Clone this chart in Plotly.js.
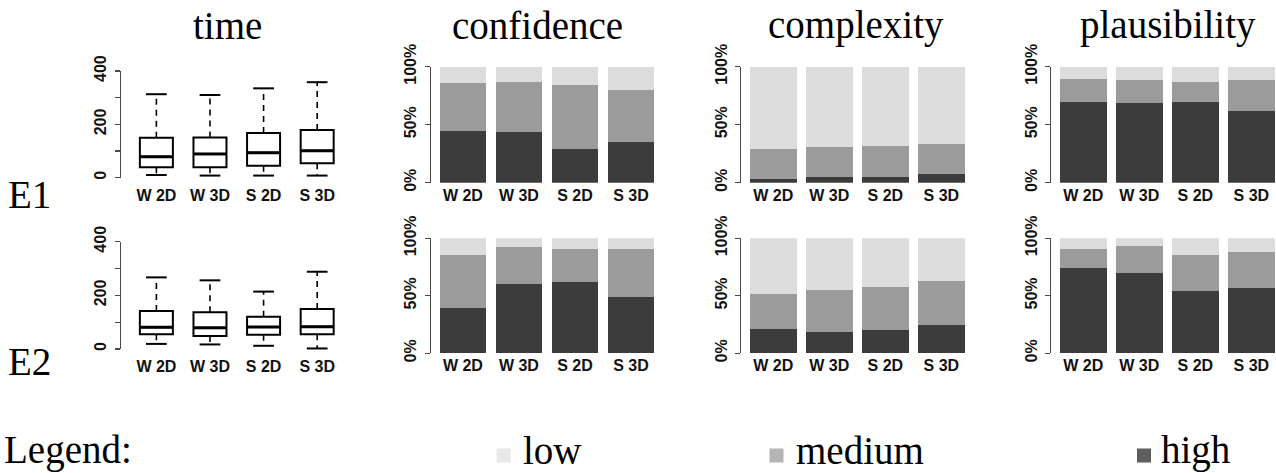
<!DOCTYPE html>
<html>
<head>
<meta charset="utf-8">
<script src="https://cdn.plot.ly/plotly-3.0.1.min.js"></script>
<style>html,body{margin:0;padding:0;background:#fff;}#chart{width:1276px;height:473px;}</style>
</head>
<body>
<div id="chart"></div>
<script>
// ---------- data ----------
const categories = ['W 2D', 'W 3D', 'S 2D', 'S 3D'];
const panelTitles = ['time', 'confidence', 'complexity', 'plausibility'];
const rowLabels = ['E1', 'E2'];
const levelNames = ['low', 'medium', 'high'];
const timeTicks = [0, 100, 200, 300, 400];
const timeTickText = ['0', '', '200', '', '400'];
const pctTicks = [0, 50, 100];
const pctTickText = ['0%', '50%', '100%'];

// time (boxplots)
const e1TimeLower = [10, 8, 8, 8];
const e1TimeQ1 = [39, 39, 45, 54];
const e1TimeMedian = [79, 89, 94, 101];
const e1TimeQ3 = [150, 151, 168, 179];
const e1TimeUpper = [313, 310, 335, 358];

const e2TimeLower = [19, 17, 12, 2];
const e2TimeQ1 = [55, 48, 53, 55];
const e2TimeMedian = [81, 79, 82, 83];
const e2TimeQ3 = [142, 137, 120, 149];
const e2TimeUpper = [267, 256, 214, 288];

// stacked percentages (high, medium, low)
const e1ConfHigh = [44.6, 44.0, 29.0, 35.0];
const e1ConfMed = [41.6, 42.8, 55.2, 44.6];
const e1ConfLow = [13.8, 13.2, 15.8, 20.4];
const e2ConfHigh = [39.0, 60.0, 61.7, 49.0];
const e2ConfMed = [46.2, 32.2, 28.7, 41.4];
const e2ConfLow = [14.8, 7.8, 9.6, 9.6];

const e1CompHigh = [3.4, 4.9, 4.6, 7.2];
const e1CompMed = [25.9, 25.6, 27.3, 25.9];
const e1CompLow = [70.7, 69.5, 68.1, 66.9];
const e2CompHigh = [21.4, 18.3, 20.6, 24.9];
const e2CompMed = [29.9, 37.1, 36.8, 38.2];
const e2CompLow = [48.7, 44.6, 42.6, 36.9];

const e1PlausHigh = [69.3, 68.4, 69.3, 61.5];
const e1PlausMed = [20.4, 20.1, 17.8, 26.7];
const e1PlausLow = [10.3, 11.5, 12.9, 11.8];
const e2PlausHigh = [73.9, 69.6, 54.4, 56.8];
const e2PlausMed = [16.8, 23.4, 30.8, 31.0];
const e2PlausLow = [9.3, 7.0, 14.8, 12.2];

// ---------- layout helpers ----------
const W = 1276, H = 473;
const fx = px => Math.max(0, Math.min(1, px / W));
const fy = px => Math.max(0, Math.min(1, 1 - px / H));
const colHigh = '#3c3c3c', colMed = '#9b9b9b', colLow = '#dcdcdc';
const legHigh = '#5f5f5f', legMed = '#b4b4b4', legLow = '#e8e8e8';
const axisColor = '#4a4a4a';
const tickFont = {family: 'Liberation Sans, Arial, sans-serif', size: 16, color: '#111111', weight: 'bold'};
const serif = 'Liberation Serif, Times New Roman, serif';

const suffix = i => (i === 1 ? '' : String(i));
const traces = [];
const layout = {
  width: W, height: H,
  margin: {l: 0, r: 0, t: 0, b: 0},
  paper_bgcolor: '#ffffff', plot_bgcolor: 'rgba(0,0,0,0)',
  showlegend: false, barmode: 'stack', bargap: 1 - 1 / 1.2,
  annotations: [], shapes: []
};

function setAxes(i, xLeft, spacing, pad, yBottom, yTop, yRange, tv, tt, xStandoff) {
  let rightPx = xLeft + (3 + 2 * pad) * spacing;
  let rMax = 3 + pad;
  if (rightPx > W) { rMax = -pad + (W - xLeft) / spacing; rightPx = W; }
  layout['xaxis' + suffix(i)] = {
    domain: [fx(xLeft), fx(rightPx)], range: [-pad, rMax], anchor: 'y' + suffix(i),
    type: 'category', categoryorder: 'array', categoryarray: categories,
    showline: false, showgrid: false, zeroline: false, ticks: '',
    ticklabelstandoff: xStandoff, tickfont: tickFont, fixedrange: true
  };
  layout['yaxis' + suffix(i)] = {
    domain: [fy(yBottom), fy(yTop)], range: yRange, anchor: 'x' + suffix(i),
    showline: true, linecolor: axisColor, linewidth: 1.3, showgrid: false, zeroline: false,
    ticks: 'outside', ticklen: 5, tickwidth: 1.3, tickcolor: axisColor,
    tickmode: 'array', tickvals: tv, ticktext: tt, tickangle: -90,
    ticklabelstandoff: 2, tickfont: tickFont, fixedrange: true
  };
}

function addBox(i, lower, q1, med, q3, upper) {
  const xa = 'x' + suffix(i), ya = 'y' + suffix(i);
  traces.push({
    type: 'box', x: categories, q1: q1, median: med, q3: q3,
    lowerfence: q1, upperfence: q3, width: 0.616, whiskerwidth: 0,
    fillcolor: '#ffffff', line: {color: '#000000', width: 2},
    boxpoints: false, hoverinfo: 'skip', xaxis: xa, yaxis: ya
  });
  const wx = [], wy = [];
  categories.forEach((c, k) => { wx.push(c, c, null, c, c, null); wy.push(q3[k], upper[k], null, q1[k], lower[k], null); });
  traces.push({type: 'scatter', mode: 'lines', x: wx, y: wy, line: {color: '#000', width: 1.6, dash: '6px,5px'},
    hoverinfo: 'skip', cliponaxis: false, xaxis: xa, yaxis: ya});
  // whisker caps (line-ew length = 1.4 * size)
  traces.push({type: 'scatter', mode: 'markers', x: categories.concat(categories), y: upper.concat(lower),
    marker: {symbol: 'line-ew', size: 14.8, line: {color: '#000', width: 2}},
    hoverinfo: 'skip', cliponaxis: false, xaxis: xa, yaxis: ya});
  // thick median lines spanning the box width
  traces.push({type: 'scatter', mode: 'markers', x: categories, y: med,
    marker: {symbol: 'line-ew', size: 22.5, line: {color: '#000', width: 3}},
    hoverinfo: 'skip', cliponaxis: false, xaxis: xa, yaxis: ya});
}

function addStack(i, high, med, low) {
  const xa = 'x' + suffix(i), ya = 'y' + suffix(i);
  [[high, colHigh], [med, colMed], [low, colLow]].forEach(([vals, col]) => {
    traces.push({type: 'bar', x: categories, y: vals, marker: {color: col, line: {width: 0}},
      hoverinfo: 'skip', xaxis: xa, yaxis: ya});
  });
}

// panel geometry (pixels)
const boxLeft = 121, boxSp = 53.6, boxPad = 0.66;
const barLefts = [431, 741.4, 1051.4], barSp = 56, barPad = 0.57;
const rowBox = [[177.7, 71], [349, 241.7]];
const rowBar = [[182.7, 66.7], [353.3, 238.3]];

for (let r = 0; r < 2; r++) {
  const base = r * 4;
  setAxes(base + 1, boxLeft, boxSp, boxPad, rowBox[r][0], rowBox[r][1], [0, 400], timeTicks, timeTickText, 6);
  for (let c = 0; c < 3; c++) {
    setAxes(base + 2 + c, barLefts[c], barSp, barPad, rowBar[r][0], rowBar[r][1], [0, 100], pctTicks, pctTickText, 1);
  }
}

addBox(1, e1TimeLower, e1TimeQ1, e1TimeMedian, e1TimeQ3, e1TimeUpper);
addStack(2, e1ConfHigh, e1ConfMed, e1ConfLow);
addStack(3, e1CompHigh, e1CompMed, e1CompLow);
addStack(4, e1PlausHigh, e1PlausMed, e1PlausLow);
addBox(5, e2TimeLower, e2TimeQ1, e2TimeMedian, e2TimeQ3, e2TimeUpper);
addStack(6, e2ConfHigh, e2ConfMed, e2ConfLow);
addStack(7, e2CompHigh, e2CompMed, e2CompLow);
addStack(8, e2PlausHigh, e2PlausMed, e2PlausLow);

// titles
const titleX = [227.5, 537, 856, 1168];
panelTitles.forEach((t, k) => layout.annotations.push({
  text: t, xref: 'paper', yref: 'paper', x: fx(titleX[k]), y: fy(25), xanchor: 'center', yanchor: 'middle',
  showarrow: false, font: {family: serif, size: 39, color: '#000'}
}));
// row labels
const rowLabelY = [194, 361];
rowLabels.forEach((t, k) => layout.annotations.push({
  text: t, xref: 'paper', yref: 'paper', x: fx(6), y: fy(rowLabelY[k]), xanchor: 'left', yanchor: 'middle',
  showarrow: false, font: {family: serif, size: 39, color: '#000'}
}));
// legend
layout.annotations.push({
  text: 'Legend:', xref: 'paper', yref: 'paper', x: fx(3), y: 0, xanchor: 'left', yanchor: 'bottom',
  showarrow: false, borderpad: 0, font: {family: serif, size: 39, color: '#000'}
});
const legSq = [496.7, 769.5, 1137];
const legTx = [522, 795, 1160];
const legCols = [legLow, legMed, legHigh];
levelNames.forEach((n, k) => {
  layout.shapes.push({type: 'rect', xref: 'paper', yref: 'paper', x0: fx(legSq[k]), x1: fx(legSq[k] + 14),
    y0: fy(462.5), y1: fy(448.5), fillcolor: legCols[k], line: {width: 0}});
  layout.annotations.push({text: n, xref: 'paper', yref: 'paper', x: fx(legTx[k]), y: 0, xanchor: 'left', yanchor: 'bottom',
    showarrow: false, borderpad: 0, font: {family: serif, size: 39, color: '#000'}});
});

Plotly.newPlot('chart', traces, layout, {staticPlot: true, displayModeBar: false});
</script>
</body>
</html>
